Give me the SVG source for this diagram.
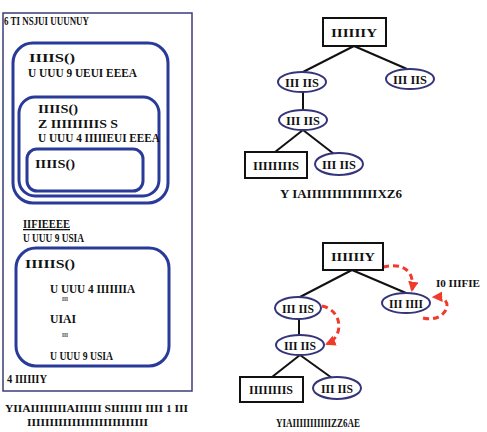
<svg xmlns="http://www.w3.org/2000/svg" width="487" height="432" viewBox="0 0 487 432">
<style>
  text{font-family:"Liberation Serif","DejaVu Serif",serif;font-weight:bold;font-size:13px;fill:#111}
  .c{text-anchor:middle}
  .cap{font-size:11px}
  .sm{font-size:6px;fill:#333}
  .frame{fill:#fff;stroke:#3c3c78;stroke-width:1.5}
  .blk{fill:none;stroke:#2a3a98;stroke-width:3}
  .ell{fill:#fff;stroke:#34347a;stroke-width:2}
  .box{fill:#fff;stroke:#111;stroke-width:2}
  .edge{fill:none;stroke:#111;stroke-width:2}
  .ref{fill:none;stroke:#f23a2a;stroke-width:3;stroke-dasharray:6 4}
</style>
<defs>
  <marker id="ah" viewBox="0 0 10 10" refX="8" refY="5" markerWidth="3.5" markerHeight="3.5" orient="auto">
    <path d="M0,0 L10,5 L0,10 z" fill="#f23a2a"/>
  </marker>
</defs>
<rect width="487" height="432" fill="#fff"/>

<!-- left panel -->
<g id="frame">
  <rect class="frame" x="3" y="13" width="189" height="378"/>
  <text x="4" y="25" textLength="85" lengthAdjust="spacingAndGlyphs">6 TI NSJUI UUUNUY</text>
</g>
<g id="block1">
  <rect class="blk" x="13" y="43" width="155" height="160" rx="20"/>
  <text x="29" y="62" textLength="46" lengthAdjust="spacingAndGlyphs">IIIIS()</text>
  <text x="28" y="77" textLength="109" lengthAdjust="spacingAndGlyphs">U UUU 9 UEUI EEEA</text>
</g>
<g id="block2">
  <rect class="blk" x="19" y="97" width="140" height="99" rx="16"/>
  <text x="38" y="113" textLength="40" lengthAdjust="spacingAndGlyphs">IIIIS()</text>
  <text x="38" y="128" textLength="80" lengthAdjust="spacingAndGlyphs">Z IIIIIIIIIS S</text>
  <text x="38" y="142" textLength="122" lengthAdjust="spacingAndGlyphs">U UUU 4 IIIIIEUI EEEA</text>
</g>
<g id="block3">
  <rect class="blk" x="27" y="149" width="116" height="42" rx="10"/>
  <text x="35" y="168" textLength="40" lengthAdjust="spacingAndGlyphs">IIIIS()</text>
</g>
<g id="decl">
  <text x="23" y="228" textLength="47" lengthAdjust="spacingAndGlyphs" text-decoration="underline">IIFIEEEE</text>
  <text x="23" y="242" textLength="61" lengthAdjust="spacingAndGlyphs">U UUU 9 USIA</text>
</g>
<g id="block4">
  <rect class="blk" x="16" y="248" width="153" height="118" rx="20"/>
  <text x="25" y="268" textLength="50" lengthAdjust="spacingAndGlyphs">IIIIIS()</text>
  <text x="50" y="293" textLength="85" lengthAdjust="spacingAndGlyphs">U UUU 4 IIIIIIIA</text>
  <text class="sm" x="62" y="301" textLength="6" lengthAdjust="spacingAndGlyphs">III</text>
  <text x="50" y="323" textLength="26" lengthAdjust="spacingAndGlyphs">UIAI</text>
  <text class="sm" x="62" y="337" textLength="6" lengthAdjust="spacingAndGlyphs">III</text>
  <text x="50" y="360" textLength="63" lengthAdjust="spacingAndGlyphs">U UUU 9 USIA</text>
</g>
<g id="footer">
  <text x="7" y="383" textLength="40" lengthAdjust="spacingAndGlyphs">4 IIIIIIY</text>
</g>
<g id="caption-a">
  <text class="cap" x="5" y="412" textLength="183" lengthAdjust="spacingAndGlyphs">YIIAIIIIIIIIAIIIIII SIIIIIII IIII 1 III</text>
  <text class="cap" x="27" y="426" textLength="121" lengthAdjust="spacingAndGlyphs">IIIIIIIIIIIIIIIIIIIIIIIIIII</text>
</g>

<!-- connectors -->
<g id="connectors">
  <line class="edge" x1="354" y1="46" x2="303" y2="72"/>
  <line class="edge" x1="354" y1="46" x2="407" y2="69"/>
  <line class="edge" x1="303" y1="92" x2="303" y2="110"/>
  <line class="edge" x1="303" y1="130" x2="275" y2="152"/>
  <line class="edge" x1="303" y1="130" x2="334" y2="154"/>

  <line class="edge" x1="352" y1="270" x2="300" y2="297"/>
  <line class="edge" x1="352" y1="270" x2="406" y2="293"/>
  <line class="edge" x1="299" y1="319" x2="299" y2="335"/>
  <line class="edge" x1="300" y1="355" x2="272" y2="377"/>
  <line class="edge" x1="300" y1="355" x2="332" y2="378"/>

  <path class="ref" d="M383,267 C404,262 415,272 412,290" marker-end="url(#ah)"/>
  <path class="ref" d="M423,318 C447,324 457,296 434,297" marker-end="url(#ah)"/>
  <path class="ref" d="M322,306 C342,310 345,336 327,344" marker-end="url(#ah)"/>
</g>

<!-- top tree -->
<g id="t1-root">
  <rect class="box" x="323" y="18" width="63" height="28"/>
  <text class="c" x="354" y="37" textLength="46" lengthAdjust="spacingAndGlyphs">IIIIIIY</text>
</g>
<g id="t1-a">
  <ellipse class="ell" cx="302" cy="82" rx="24" ry="10"/>
  <text class="c" x="302" y="87" textLength="34" lengthAdjust="spacingAndGlyphs">III IIS</text>
</g>
<g id="t1-b">
  <ellipse class="ell" cx="410" cy="79" rx="24" ry="10"/>
  <text class="c" x="410" y="84" textLength="34" lengthAdjust="spacingAndGlyphs">III IIS</text>
</g>
<g id="t1-c">
  <ellipse class="ell" cx="303" cy="120" rx="24" ry="10"/>
  <text class="c" x="303" y="125" textLength="34" lengthAdjust="spacingAndGlyphs">III IIS</text>
</g>
<g id="t1-d">
  <rect class="box" x="245" y="152" width="62" height="26"/>
  <text class="c" x="276" y="170" textLength="46" lengthAdjust="spacingAndGlyphs">IIIIIIIIS</text>
</g>
<g id="t1-e">
  <ellipse class="ell" cx="339" cy="164" rx="24" ry="11"/>
  <text class="c" x="339" y="169" textLength="34" lengthAdjust="spacingAndGlyphs">III IIS</text>
</g>
<g id="caption-b">
  <text class="c" x="341" y="198" textLength="122" lengthAdjust="spacingAndGlyphs">Y IAIIIIIIIIIIIIIIXZ6</text>
</g>

<!-- bottom tree -->
<g id="t2-root">
  <rect class="box" x="323" y="243" width="60" height="27"/>
  <text class="c" x="353" y="261" textLength="44" lengthAdjust="spacingAndGlyphs">IIIIIIY</text>
</g>
<g id="t2-a">
  <ellipse class="ell" cx="298" cy="308" rx="23" ry="11"/>
  <text class="c" x="298" y="313" textLength="32" lengthAdjust="spacingAndGlyphs">III IIS</text>
</g>
<g id="t2-b">
  <ellipse class="ell" cx="406" cy="303" rx="24" ry="10"/>
  <text class="c" x="406" y="308" textLength="34" lengthAdjust="spacingAndGlyphs">III IIII</text>
</g>
<g id="t2-c">
  <ellipse class="ell" cx="300" cy="345" rx="24" ry="10"/>
  <text class="c" x="300" y="350" textLength="32" lengthAdjust="spacingAndGlyphs">III IIS</text>
</g>
<g id="t2-d">
  <rect class="box" x="240" y="377" width="63" height="25"/>
  <text class="c" x="271" y="394" textLength="44" lengthAdjust="spacingAndGlyphs">IIIIIIIIS</text>
</g>
<g id="t2-e">
  <ellipse class="ell" cx="337" cy="388" rx="24" ry="11"/>
  <text class="c" x="337" y="393" textLength="32" lengthAdjust="spacingAndGlyphs">III IIS</text>
</g>
<g id="self-label">
  <text class="cap" x="436" y="287" textLength="44" lengthAdjust="spacingAndGlyphs">I0 IIIFIE</text>
</g>
<g id="caption-c">
  <text class="c" x="318" y="427" textLength="84" lengthAdjust="spacingAndGlyphs">YIAIIIIIIIIIIIZZ6AE</text>
</g>
</svg>
